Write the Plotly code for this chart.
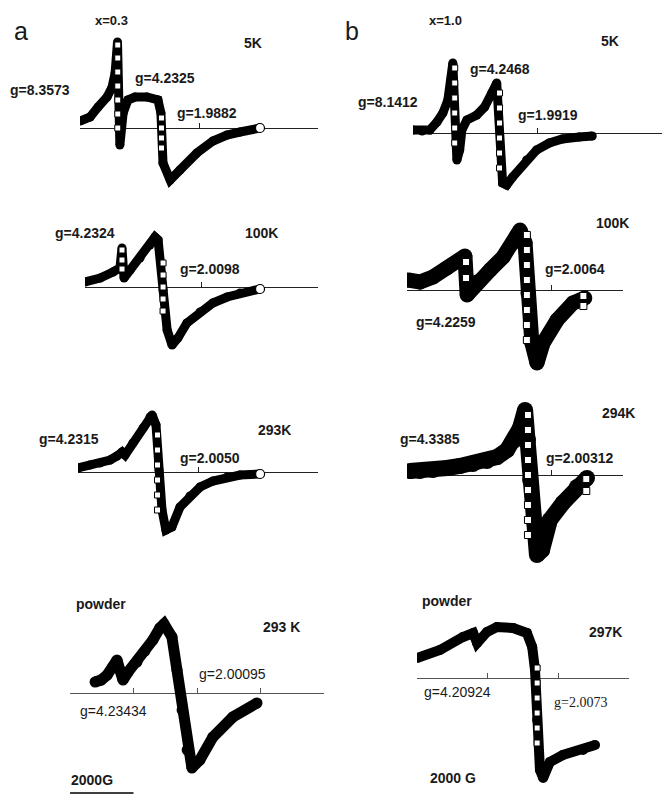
import plotly.graph_objects as go

W, H = 664, 796

# ---------------- data: field (kG from sweep start), signal (a.u.) ----------------
a1_field = [0.00, 0.34, 0.61, 0.91, 1.08, 1.18, 1.26, 1.34, 1.45, 1.61, 1.85, 2.25, 2.62, 2.72, 2.79, 3.03, 3.36, 3.93, 4.47, 4.94, 5.38, 6.05]
a1_signal = [0.7, 1.1, 2.1, 3.1, 4.1, 5.5, 8.6, -1.7, 1.5, 2.8, 3.1, 3.1, 2.8, 1.5, -3.5, -5.2, -4.2, -2.5, -1.3, -0.7, -0.4, 0.0]
a1_sq_field = [1.27, 1.27, 1.27, 1.27, 1.27, 1.27, 1.27, 2.74, 2.74, 2.74, 2.74]
a1_sq_signal = [8.3, 7.0, 5.6, 4.2, 2.8, 1.4, 0.0, 1.0, 0.0, -1.0, -2.0]

a2_field = [0.00, 0.52, 0.96, 1.20, 1.27, 1.34, 1.55, 1.89, 2.23, 2.40, 2.51, 2.68, 2.82, 2.99, 3.19, 3.50, 3.95, 4.39, 4.88, 5.32, 6.01]
a2_signal = [0.5, 0.9, 1.5, 1.9, 3.9, 0.9, 1.7, 2.9, 4.2, 5.0, 4.7, -0.3, -4.3, -5.8, -5.1, -3.6, -2.5, -1.6, -1.0, -0.6, -0.2]
a2_sq_field = [1.27, 1.27, 1.27, 2.68, 2.68, 2.68, 2.68, 2.68]
a2_sq_signal = [3.7, 2.7, 1.8, 2.4, 1.2, 0.0, -1.2, -2.4]

a3_field = [0.00, 0.40, 0.73, 1.07, 1.30, 1.47, 1.57, 1.83, 2.17, 2.40, 2.47, 2.60, 2.70, 2.80, 2.93, 3.13, 3.40, 3.73, 4.07, 4.50, 4.97, 5.40, 6.07]
a3_signal = [0.4, 0.7, 0.9, 1.2, 1.6, 2.0, 1.7, 2.9, 4.4, 5.5, 5.7, 4.7, 0.2, -3.8, -5.8, -5.5, -3.5, -2.4, -1.5, -0.9, -0.5, -0.3, -0.2]
a3_sq_field = [2.65, 2.65, 2.65, 2.65, 2.65, 2.65]
a3_sq_signal = [3.7, 2.2, 0.7, -0.8, -2.3, -3.8]

a4_field = [0.79, 0.98, 1.17, 1.35, 1.48, 1.57, 1.67, 1.83, 2.11, 2.36, 2.61, 2.83, 2.96, 3.21, 3.37, 3.53, 3.69, 3.84, 4.09, 4.50, 5.13, 5.89]
a4_signal = [1.1, 1.3, 1.8, 2.6, 3.3, 2.3, 1.3, 2.1, 3.1, 4.2, 5.3, 6.5, 6.9, 5.6, 2.3, -1.7, -5.7, -7.5, -6.7, -4.4, -2.4, -1.0]

b1_field = [0.00, 0.29, 0.54, 0.77, 0.96, 1.12, 1.22, 1.28, 1.41, 1.50, 1.57, 1.73, 2.05, 2.30, 2.53, 2.69, 2.88, 3.01, 3.20, 3.65, 3.97, 4.38, 4.80, 5.34, 5.76]
b1_signal = [0.3, 0.2, 0.3, 1.1, 2.0, 3.3, 5.3, 7.0, -2.7, -1.7, 0.3, 1.3, 1.8, 2.6, 4.0, 5.0, -5.0, -5.2, -4.4, -2.7, -1.7, -1.0, -0.6, -0.4, -0.3]
b1_sq_field = [1.34, 1.34, 1.34, 1.34, 1.34, 1.34, 2.78, 2.78, 2.78, 2.78, 2.78, 2.78]
b1_sq_signal = [6.5, 5.0, 3.5, 2.0, 0.5, -1.0, 4.0, 2.5, 1.0, -0.5, -2.0, -3.5]

b2_field = [0.03, 0.36, 0.72, 1.11, 1.47, 1.61, 1.67, 1.94, 2.31, 2.67, 2.94, 3.14, 3.28, 3.36, 3.47, 3.61, 3.78, 4.17, 4.61, 4.94]
b2_signal = [1.0, 0.8, 1.3, 2.2, 3.0, 3.4, -0.5, 0.8, 2.0, 3.3, 4.7, 6.0, 4.7, -0.3, -5.3, -7.3, -5.3, -3.0, -1.3, -0.8]
b2_sq_field = [1.64, 1.64, 3.33, 3.33, 3.33, 3.33, 3.33, 3.33, 3.33, 3.33, 4.90, 4.90]
b2_sq_signal = [2.8, 1.2, 5.5, 4.0, 2.5, 1.0, -0.5, -2.0, -3.5, -5.0, -0.6, -1.6]

b3_field = [0.08, 0.36, 0.72, 1.11, 1.47, 1.83, 2.22, 2.50, 2.78, 3.00, 3.14, 3.28, 3.36, 3.42, 3.50, 3.61, 3.75, 3.97, 4.33, 4.72, 5.00]
b3_signal = [0.4, 0.4, 0.5, 0.7, 0.9, 1.1, 1.4, 1.8, 2.5, 3.5, 4.7, 6.5, 3.5, -0.5, -4.5, -8.0, -7.5, -4.5, -2.8, -1.2, -0.3]
b3_sq_field = [3.36, 3.36, 3.36, 3.36, 3.36, 3.36, 3.36, 3.36, 3.36, 4.98, 4.98]
b3_sq_signal = [6.0, 4.5, 3.0, 1.5, 0.0, -1.5, -3.0, -4.5, -6.0, -0.4, -1.6]

b4_field = [0.00, 0.65, 1.30, 1.59, 1.70, 1.98, 2.26, 2.72, 3.11, 3.26, 3.34, 3.40, 3.48, 3.57, 3.76, 4.13, 4.70, 5.04]
b4_signal = [2.0, 2.8, 4.1, 4.5, 3.5, 4.6, 5.1, 5.0, 4.5, 3.1, 0.8, -4.2, -9.2, -10.0, -8.4, -7.7, -7.2, -6.7]
b4_sq_field = [3.40, 3.40, 3.40, 3.40, 3.40, 3.40]
b4_sq_signal = [1.0, -0.5, -2.0, -3.5, -5.0, -6.5]

a1_ticks = [4, 8]
a2_ticks = [4, 8]
a3_ticks = [4, 8]
a4_ticks = [0, 2, 4, 6, 8]
b1_ticks = [4, 8]
b2_ticks = [4, 6]
b3_ticks = [4, 6]
b4_ticks = [0, 2, 4, 6]
scale_bar_kG = [0, 2]   # 2000 G scale bar on panel a4's field axis

# ---------------- geometry (pixels) ----------------
# name: x_start, x_end, sweep length (kG), baseline y, top y, bottom y, line width, axis colour
panels = [
    ("a1", 80, 318, 8, 128, 30, 200, 9, "#222"),
    ("a2", 85, 318, 8, 287, 205, 375, 9, "#222"),
    ("a3", 78, 318, 8, 472, 385, 578, 9, "#222"),
    ("a4", 70, 324, 8, 693, 585, 796, 11, "#555"),
    ("b1", 413, 662, 8, 133, 30, 200, 9, "#222"),
    ("b2", 407, 623, 6, 290, 205, 385, 15, "#222"),
    ("b3", 407, 623, 6, 475, 390, 582, 16, "#222"),
    ("b4", 417, 629, 6, 678, 590, 796, 10, "#555"),
]
data = {
    "a1": (a1_field, a1_signal, a1_sq_field, a1_sq_signal, a1_ticks, True),
    "a2": (a2_field, a2_signal, a2_sq_field, a2_sq_signal, a2_ticks, True),
    "a3": (a3_field, a3_signal, a3_sq_field, a3_sq_signal, a3_ticks, True),
    "a4": (a4_field, a4_signal, [], [], a4_ticks, False),
    "b1": (b1_field, b1_signal, b1_sq_field, b1_sq_signal, b1_ticks, False),
    "b2": (b2_field, b2_signal, b2_sq_field, b2_sq_signal, b2_ticks, False),
    "b3": (b3_field, b3_signal, b3_sq_field, b3_sq_signal, b3_ticks, False),
    "b4": (b4_field, b4_signal, b4_sq_field, b4_sq_signal, b4_ticks, False),
}
SCALE_BAR_Y_PX = 793

fig = go.Figure()
layout = {}
for i, (name, x0, x1, L, base, top, bot, lw, acol) in enumerate(panels, start=1):
    fx, fy, sx, sy, ticks, endcircle = data[name]
    xa = "x" if i == 1 else f"x{i}"
    ya = "y" if i == 1 else f"y{i}"
    # thick trace with round "joints" (dense overlapping symbols in the original)
    fig.add_trace(go.Scatter(x=fx, y=fy, mode="lines+markers", xaxis=xa, yaxis=ya,
                             line=dict(color="black", width=lw),
                             marker=dict(symbol="circle", size=lw, color="black", line=dict(width=0)),
                             showlegend=False, hoverinfo="skip"))
    if sx:
        fig.add_trace(go.Scatter(x=sx, y=sy, mode="markers", xaxis=xa, yaxis=ya,
                                 marker=dict(symbol="square", size=6 if lw < 12 else 7,
                                             color="white", line=dict(color="black", width=1)),
                                 showlegend=False, hoverinfo="skip"))
    if endcircle:
        fig.add_trace(go.Scatter(x=[fx[-1]], y=[fy[-1]], mode="markers", xaxis=xa, yaxis=ya,
                                 marker=dict(symbol="circle", size=9, color="white",
                                             line=dict(color="black", width=1.2)),
                                 showlegend=False, hoverinfo="skip"))
    if name == "a4":
        ybar = (base - SCALE_BAR_Y_PX) / 10
        fig.add_trace(go.Scatter(x=scale_bar_kG, y=[ybar, ybar], mode="lines", xaxis=xa, yaxis=ya,
                                 line=dict(color="black", width=1.5), showlegend=False,
                                 hoverinfo="skip", cliponaxis=False))
    layout[f"xaxis{'' if i == 1 else i}"] = dict(
        domain=[x0 / W, x1 / W], range=[0, L], anchor="free", position=(H - base) / H,
        showline=True, linecolor=acol, linewidth=1, ticks="inside", ticklen=5,
        tickcolor=acol, tickwidth=1, tickvals=ticks, showticklabels=False,
        showgrid=False, zeroline=False, layer="below traces", fixedrange=True)
    layout[f"yaxis{'' if i == 1 else i}"] = dict(
        domain=[(H - bot) / H, (H - top) / H], range=[(base - bot) / 10, (base - top) / 10],
        visible=False, showgrid=False, zeroline=False, fixedrange=True)

# ---------------- labels ----------------
ARIAL = "Liberation Sans, Arial, sans-serif"
SERIF = "Liberation Serif, Times New Roman, serif"
labels = [
    ("a", 21, 31, 25, False, ARIAL), ("b", 352, 31, 25, False, ARIAL),
    ("x=0.3", 112, 20, 13, True, ARIAL), ("x=1.0", 445, 20, 13, True, ARIAL),
    ("5K", 253, 43, 14, True, ARIAL), ("5K", 610, 41, 14, True, ARIAL),
    ("g=8.3573", 40, 90, 14, True, ARIAL), ("g=4.2325", 165, 78, 14, True, ARIAL),
    ("g=1.9882", 207, 113, 14, True, ARIAL),
    ("g=8.1412", 388, 102, 14, True, ARIAL), ("g=4.2468", 500, 69, 14, True, ARIAL),
    ("g=1.9919", 548, 115, 14, True, ARIAL),
    ("g=4.2324", 85, 233, 14, True, ARIAL), ("100K", 261, 233, 14, True, ARIAL),
    ("g=2.0098", 210, 269, 14, True, ARIAL),
    ("100K", 612, 223, 14, True, ARIAL), ("g=2.0064", 575, 269, 14, True, ARIAL),
    ("g=4.2259", 446, 322, 14, True, ARIAL),
    ("g=4.2315", 69, 439, 14, True, ARIAL), ("293K", 274, 430, 14, True, ARIAL),
    ("g=2.0050", 210, 458, 14, True, ARIAL),
    ("294K", 618, 413, 14, True, ARIAL), ("g=4.3385", 430, 439, 14, True, ARIAL),
    ("g=2.00312", 580, 458, 14, True, ARIAL),
    ("powder", 101, 604, 14, True, ARIAL), ("293 K", 281, 627, 14, True, ARIAL),
    ("g=2.00095", 232, 674, 14, False, ARIAL), ("g=4.23434", 113, 711, 14, False, ARIAL),
    ("2000G", 92, 780, 14, True, ARIAL),
    ("powder", 447, 601, 14, True, ARIAL), ("297K", 605, 632, 14, True, ARIAL),
    ("g=4.20924", 457, 692, 14, False, ARIAL), ("g=2.0073", 580, 702, 14, False, SERIF),
    ("2000 G", 453, 778, 14, True, ARIAL),
]
annotations = []
for text, cx, cy, size, bold, fam in labels:
    annotations.append(dict(text=f"<b>{text}</b>" if bold else text, x=cx / W, y=1 - cy / H,
                            xref="paper", yref="paper", xanchor="center", yanchor="middle",
                            showarrow=False, font=dict(family=fam, size=size, color="#1a1a1a")))

fig.update_layout(width=W, height=H, margin=dict(l=0, r=0, t=0, b=0),
                  paper_bgcolor="white", plot_bgcolor="white",
                  annotations=annotations, **layout)
fig.write_html("out.html", config={"displayModeBar": False},
               post_script="document.body.style.margin='0';document.body.style.overflow='hidden';")
